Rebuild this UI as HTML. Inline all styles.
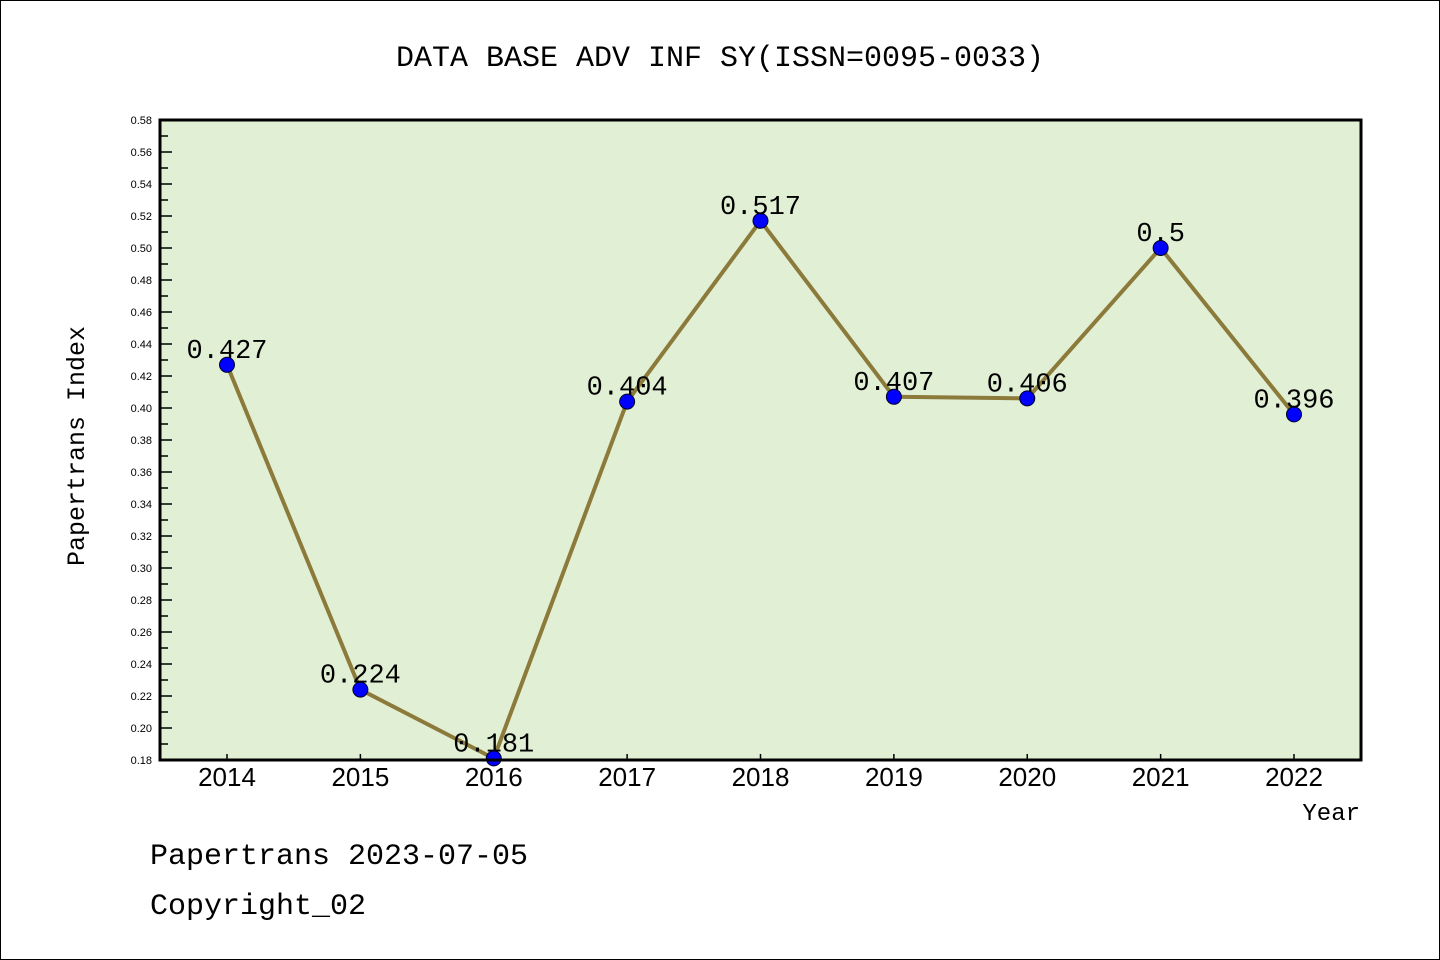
<!DOCTYPE html>
<html><head><meta charset="utf-8"><style>
html,body{margin:0;padding:0;background:#fff}
svg{display:block}
</style></head><body>
<svg id="chart" width="1440" height="960" xmlns="http://www.w3.org/2000/svg">
<rect x="0.5" y="0.5" width="1439" height="959" fill="#fff" stroke="#000" stroke-width="1"/>
<text x="720" y="66" text-anchor="middle" font-family="'Liberation Mono','Noto Sans CJK SC',monospace" font-size="30" fill="#000">DATA BASE ADV INF SY(ISSN=0095-0033)</text>
<rect x="160" y="120" width="1201" height="640" fill="#e1efd5"/>
<g id="yaxis"></g>
<g id="xaxis"></g>
<g id="series"></g>
<rect x="160" y="120" width="1201" height="640" fill="none" stroke="#000" stroke-width="3"/>
<text transform="translate(84,446) rotate(-90)" text-anchor="middle" font-family="'Liberation Mono',monospace" font-size="25" fill="#000">Papertrans Index</text>
<text x="1360" y="820" text-anchor="end" font-family="'Liberation Mono',monospace" font-size="24" fill="#000">Year</text>
<text x="150" y="864" font-family="'Liberation Mono',monospace" font-size="30" fill="#000">Papertrans 2023-07-05</text>
<text x="150" y="914" font-family="'Liberation Mono',monospace" font-size="30" fill="#000">Copyright_02</text>
</svg>
<script>
const categories = ["2014","2015","2016","2017","2018","2019","2020","2021","2022"];
const values = [0.427,0.224,0.181,0.404,0.517,0.407,0.406,0.5,0.396];
const valueLabels = ["0.427","0.224","0.181","0.404","0.517","0.407","0.406","0.5","0.396"];
const yTicks = [0.18,0.20,0.22,0.24,0.26,0.28,0.30,0.32,0.34,0.36,0.38,0.40,0.42,0.44,0.46,0.48,0.50,0.52,0.54,0.56,0.58];

const NS="http://www.w3.org/2000/svg";
const yMin=0.18,yMax=0.58,plotTop=120,plotBot=760;
function yScale(v){return plotBot-(v-yMin)/(yMax-yMin)*(plotBot-plotTop);}
function xScale(i){return 227+i*(1294-227)/(categories.length-1);}
function mk(tag,attrs,parent){const e=document.createElementNS(NS,tag);for(const k in attrs)e.setAttribute(k,attrs[k]);parent.appendChild(e);return e;}

const ya=document.getElementById('yaxis');
yTicks.forEach((v,i)=>{
  const y=yScale(v);
  const t=mk('line',{x1:160,x2:172,y1:y,y2:y,stroke:'#000','stroke-width':1.5},ya);
  
  
  if(i<yTicks.length-1){
    const ym=yScale(v+0.01);
    const m=mk('line',{x1:160,x2:168,y1:ym,y2:ym,stroke:'#000','stroke-width':1.5},ya);
    
    
  }
  const l=mk('text',{x:152,y:y+4,'text-anchor':'end','font-family':"'Liberation Sans',sans-serif",'font-size':11,fill:'#000'},ya);
  l.textContent=v.toFixed(2);
  
  
});
const xa=document.getElementById('xaxis');
categories.forEach((c,i)=>{
  const x=xScale(i);
  const t=mk('line',{x1:x,x2:x,y1:plotBot,y2:plotBot-6,stroke:'#000','stroke-width':1.5},xa);
  
  
  const l=mk('text',{x:x,y:786,'text-anchor':'middle','font-family':"'Liberation Sans',sans-serif",'font-size':26,fill:'#000'},xa);
  l.textContent=c;
  
  
});
const s=document.getElementById('series');
const pts=values.map((v,i)=>xScale(i)+','+yScale(v)).join(' ');
const pl=mk('polyline',{points:pts,fill:'none',stroke:'#8c7a3a','stroke-width':4,'stroke-linejoin':'round'},s);


values.forEach((v,i)=>{
  const c=mk('circle',{cx:xScale(i),cy:yScale(v),r:7.5,fill:'#0000ff',stroke:'#000022','stroke-width':1},s);
  
  
});
values.forEach((v,i)=>{
  const l=mk('text',{x:xScale(i),y:yScale(v)-7,'text-anchor':'middle','font-family':"'Liberation Mono',monospace",'font-size':27,fill:'#000'},s);
  l.textContent=valueLabels[i];
  
  
});
</script>
</body></html>
